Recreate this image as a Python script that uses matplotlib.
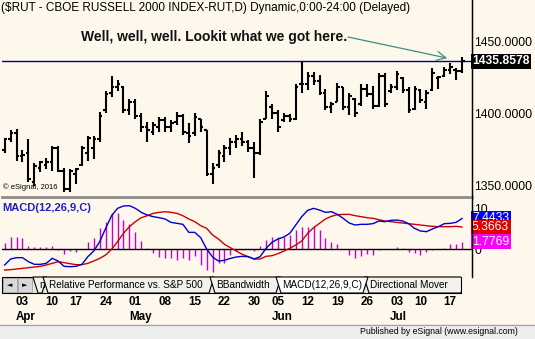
import numpy as np
import pandas as pd
import matplotlib
matplotlib.use('Agg')
import matplotlib.pyplot as plt
import matplotlib.patches as patches
from matplotlib import transforms

plt.rcParams['font.family'] = ['Liberation Sans', 'DejaVu Sans']

# trading days on the chart (2017, exchange holidays removed)
holidays = ['2017-04-14', '2017-05-29', '2017-07-04']
dates = pd.bdate_range('2017-03-29', '2017-07-19')
dates = dates[~dates.isin(pd.to_datetime(holidays))]

# daily OHLC of $RUT
opens = [1374, 1382, 1386, 1370, 1372, 1352, 1362, 1364, 1366, 1376,
         1360, 1347, 1358, 1364, 1372, 1376, 1382, 1402, 1414, 1418,
         1418, 1402, 1408, 1398, 1390, 1387, 1390, 1395, 1390, 1394,
         1398, 1386, 1386, 1396, 1388, 1358, 1364, 1370, 1376, 1380,
         1382, 1380, 1376, 1372, 1396, 1404, 1400, 1395, 1398, 1396,
         1420, 1420, 1426, 1422, 1414, 1404, 1408, 1418, 1404, 1410,
         1406, 1417, 1413, 1405, 1426, 1415, 1418, 1424, 1416, 1403,
         1416, 1408, 1416, 1424, 1426, 1430, 1430, 1429]
highs = [1383, 1388, 1389, 1374, 1382, 1365, 1367, 1369, 1377, 1377,
         1362, 1361, 1362, 1377, 1384, 1384, 1401, 1415, 1426, 1423,
         1419, 1409.5, 1409.5, 1400, 1394, 1394, 1397, 1397, 1395, 1401,
         1399, 1393, 1400, 1396, 1388, 1365, 1374, 1378, 1383, 1385,
         1387, 1381, 1380, 1396, 1415, 1406, 1402, 1400, 1399, 1420,
         1435.2, 1428.7, 1428.7, 1426.4, 1417, 1408, 1420.6, 1418.3, 1413.7, 1410.2,
         1420, 1420, 1419, 1428, 1428, 1420, 1429, 1425, 1418, 1419,
         1417, 1416, 1431, 1426, 1432, 1435, 1431, 1439]
lows = [1372, 1380, 1367, 1366, 1352, 1349, 1359, 1361, 1360, 1359,
        1345, 1345, 1351, 1363, 1367, 1368, 1380, 1400, 1411, 1415,
        1400, 1398.6, 1396, 1387, 1380, 1385, 1387, 1387, 1387, 1392,
        1385, 1379, 1384, 1387, 1356, 1351, 1362, 1366, 1371, 1376,
        1377, 1373, 1355, 1371, 1396, 1396, 1387, 1394, 1394, 1395,
        1414, 1416, 1419.5, 1412.5, 1402, 1400, 1408, 1402, 1398.6, 1397.5,
        1405, 1411, 1403, 1404, 1404, 1414, 1416, 1414, 1400, 1402,
        1407, 1403, 1415, 1417, 1425, 1427, 1423, 1428]
closes = [1382, 1386, 1370, 1371, 1354, 1363, 1366, 1366, 1376, 1360,
          1347, 1360, 1361, 1376, 1383, 1382, 1398, 1413, 1418, 1420,
          1402, 1408, 1398, 1390, 1388, 1392, 1395, 1390, 1393, 1398,
          1387, 1384, 1397, 1390, 1358, 1362, 1372, 1376, 1380, 1382,
          1380, 1376, 1372, 1394, 1412, 1400, 1390, 1398, 1396, 1418,
          1420, 1426, 1422, 1414, 1404, 1406, 1418, 1404, 1412, 1400,
          1417, 1413, 1405, 1426, 1406, 1418, 1427, 1416, 1402, 1417,
          1409, 1414, 1428, 1425, 1430, 1432, 1429, 1435.8578]

# MACD(12,26,9) panel
macd = [-3.90, -2.44, -2.11, -2.11, -3.09, -3.74, -3.74, -3.50, -2.28, -2.93,
        -4.23, -4.31, -4.23, -3.74, -1.87, -0.49, 1.79, 5.04, 8.13, 9.92,
        10.49, 10.57, 9.92, 8.94, 8.29, 7.89, 7.64, 7.32, 6.50, 6.26,
        6.02, 4.06, 4.06, 2.76, 0.00, -1.95, -2.93, -2.76, -2.28, -1.95,
        -1.79, -1.87, -2.44, -1.87, 0.16, 1.63, 2.44, 2.93, 3.82, 5.85,
        7.89, 9.43, 9.92, 9.51, 8.94, 9.10, 8.45, 7.48, 6.34, 5.85,
        6.02, 6.02, 6.18, 6.83, 6.67, 6.99, 7.07, 6.83, 6.18, 5.04,
        4.39, 4.23, 4.88, 5.45, 6.18, 6.26, 6.50, 7.4433]
signal = [-5.12, -5.04, -4.88, -4.72, -4.55, -4.39, -4.23, -3.90, -3.50, -3.09,
          -3.33, -3.58, -3.82, -3.82, -3.50, -2.93, -2.28, -1.46, -0.08, 1.79,
          3.82, 5.45, 6.67, 7.64, 8.13, 8.70, 8.94, 9.10, 8.94, 8.70,
          8.13, 7.32, 6.67, 5.69, 5.04, 3.41, 2.44, 1.14, 0.32, -0.49,
          -1.30, -1.87, -2.44, -2.44, -1.79, -1.63, -1.14, -0.49, 0.16, 0.97,
          1.95, 3.82, 5.20, 6.26, 7.32, 7.97, 8.37, 8.45, 8.45, 8.13,
          7.89, 7.64, 7.48, 7.15, 6.83, 6.67, 6.50, 6.34, 6.18, 6.02,
          5.85, 5.69, 5.53, 5.45, 5.45, 5.45, 5.53, 5.3663]
hist = [1.38, 3.01, 3.01, 2.60, 0.81, 0.57, 0.41, 0.41, 0.81, -0.24,
        -1.30, -0.49, -0.65, -0.10, 1.79, 2.60, 5.04, 6.67, 8.70, 8.70,
        7.07, 6.02, 4.23, 1.95, 0.16, -1.06, -1.87, -2.28, -2.28, -2.68,
        -2.28, -2.68, -1.63, -3.90, -5.12, -5.53, -3.50, -3.50, -1.46, -0.49,
        -0.24, -0.10, -0.49, 0.81, 2.19, 3.01, 3.01, 3.01, 3.41, 4.63,
        5.45, 5.45, 5.69, 4.63, 2.60, 1.63, 1.14, -0.10, -1.46, -2.28,
        -1.63, -1.30, -1.46, -0.24, -0.10, 0.10, 0.57, 0.32, -0.65, -1.06,
        -1.46, -0.81, -0.24, 0.05, 0.32, 1.14, 1.14, 1.7769]

# week labels on the date axis
tick_dates = ['2017-04-03', '2017-04-10', '2017-04-17', '2017-04-24',
              '2017-05-01', '2017-05-08', '2017-05-15', '2017-05-22', '2017-05-30',
              '2017-06-05', '2017-06-12', '2017-06-19', '2017-06-26',
              '2017-07-03', '2017-07-10', '2017-07-17']
tabs = ['n', 'Relative Performance vs. S&P 500', 'BBandwidth',
        'MACD(12,26,9,C)', 'Directional Mover']

title = '($RUT - CBOE RUSSELL 2000 INDEX-RUT,D) Dynamic,0:00-24:00 (Delayed)'
note = 'Well, well, well. Lookit what we got here.'

BG = '#FDF8EB'
W, H = 535, 339


def rect(x0, y0, x1, y1):
    return [x0 / W, 1 - y1 / H, (x1 - x0) / W, (y1 - y0) / H]


fig = plt.figure(figsize=(W / 100, H / 100), dpi=100, facecolor=BG)
ax = fig.add_axes(rect(2, 0, 472, 197), facecolor=BG)
axm = fig.add_axes(rect(2, 199, 472, 277), facecolor=BG)
deco = fig.add_axes([0, 0, 1, 1], facecolor='none', zorder=5)
deco.set_xlim(0, W)
deco.set_ylim(H, 0)
deco.axis('off')

x = np.arange(len(dates))

# ---- price panel
ax.vlines(x, lows, highs, color='black', lw=1.5, capstyle='butt')
ax.hlines(opens, x - 0.45, x, color='black', lw=1.5)
ax.hlines(closes, x, x + 0.45, color='black', lw=1.5)
ax.axhline(closes[-1], color='#000080', lw=1, zorder=0)

ax.set_xlim(-0.45, 78.67)
ax.set_ylim(1341.7, 1478.5)
ax.set_xticks([])
ax.yaxis.tick_right()
ax.set_yticks([1350, 1400, 1450])
ax.set_yticklabels([f'{v:.4f}' for v in [1350, 1400, 1450]])
ax.tick_params(axis='y', length=0, pad=1.5, labelsize=8.7)
for s in ['top', 'left']:
    ax.spines[s].set_visible(False)
ax.spines['right'].set_color('black')
ax.spines['bottom'].set_color('#8C8C8C')
ax.spines['bottom'].set_linewidth(2)

ax.text(1.0, closes[-1], f'{closes[-1]:.4f}', transform=transforms.blended_transform_factory(ax.transAxes, ax.transData),
        ha='left', va='center', color='white', fontsize=8.7, fontweight='bold',
        bbox=dict(boxstyle='square,pad=0.12', facecolor='black', edgecolor='none'))

# note with a thin arrow pointing at the latest bars
note_xy = (57.6, 1452.8)
ax.text(note_xy[0], note_xy[1], note, ha='right', va='center', fontsize=10,
        fontweight='bold', color='#111111')
ax.annotate('', xy=(len(x) - 3.5, closes[-1] + 2.3), xytext=(note_xy[0] + 0.2, note_xy[1]),
            arrowprops=dict(arrowstyle='->', color='#3E8E84', lw=0.9,
                            mutation_scale=16, shrinkA=0, shrinkB=0))
ax.text(0.003, 0.03, '\u00a9 eSignal, 2016', transform=ax.transAxes, fontsize=5.5,
        ha='left', va='bottom')

# ---- MACD panel
axm.vlines(x, 0, hist, color='#CC00CC', lw=1)
axm.axhline(0, color='black', lw=1)
axm.plot(x, signal, color='#CC0000', lw=1)
axm.plot(x, macd, color='#0000CC', lw=1)
axm.set_xlim(-0.45, 78.67)
axm.set_ylim(-6.83, 12.2)
axm.set_xticks([])
axm.yaxis.tick_right()
axm.set_yticks([0, 10])
axm.set_yticklabels(['0', '10'])
axm.tick_params(axis='y', length=0, pad=1.5, labelsize=8.7)
for s in ['top', 'left', 'bottom']:
    axm.spines[s].set_visible(False)
axm.text(0.0, 0.88, 'MACD(12,26,9,C)', transform=axm.transAxes, ha='left', va='center',
         color='#1E1EC8', fontsize=8, fontweight='bold')

bt = transforms.blended_transform_factory(axm.transAxes, axm.transData)
for val, col in [(macd[-1], '#0000FF'), (signal[-1], '#E00000'), (hist[-1], '#FF00FF')]:
    axm.text(1.0, val, f'{val:.4f}', transform=bt, ha='left', va='center', color='white',
             fontsize=8.7, clip_on=False,
             bbox=dict(boxstyle='square,pad=0.12', facecolor=col, edgecolor='none'))

# ---- tab strip
deco.add_patch(patches.Rectangle((2, 277), 459, 16, facecolor='#ECE9E2', edgecolor='black', lw=0.8))
for bx, sym in [(3, '\u25c4'), (18, '\u25ba')]:
    deco.add_patch(patches.Rectangle((bx, 278), 14, 14, facecolor='#D8D8D8', edgecolor='#A0A0A0', lw=0.6))
    deco.text(bx + 7, 285.5, sym, ha='center', va='center', fontsize=5, family='DejaVu Sans')
tab_x = [(33, 47), (43, 214), (210, 281), (276, 368), (364, 466)]
order = [0, 1, 2, 4, 3]
for i in order:
    x0, x1 = tab_x[i]
    face = '#FFFFFF' if i == 3 else '#F3F1EC'
    poly = patches.Polygon([(x0, 277), (x1, 277), (x1 - 5, 293), (x0 + 5, 293)],
                           closed=True, facecolor=face, edgecolor='black', lw=0.8)
    deco.add_patch(poly)
for i in [0, 1, 2, 3, 4]:
    x0, x1 = tab_x[i]
    deco.text(x0 + 6, 285.5, tabs[i], ha='left', va='center', fontsize=7.2,
              clip_on=True)
deco.add_patch(patches.Rectangle((461, 276), 74, 18, facecolor=BG, edgecolor='none'))
deco.plot([461, 461], [277, 293], color='black', lw=0.8)

# ---- date axis
dt = transforms.blended_transform_factory(axm.transData, deco.transData)
seen = set()
for d in tick_dates:
    ts = pd.Timestamp(d)
    i = dates.get_loc(ts)
    deco.text(i, 302, ts.strftime('%d'), transform=dt, ha='center', va='center',
              fontsize=8.4, fontweight='bold')
    if ts.month not in seen:
        seen.add(ts.month)
        mt = transforms.offset_copy(dt, fig=fig, x=-6.5, y=0, units='dots')
        deco.text(i, 317, ts.strftime('%b'), transform=mt, ha='left', va='center',
                  fontsize=8.4, fontweight='bold')

# ---- footer and title
deco.add_patch(patches.Rectangle((0, 324), W, 15, facecolor='#EDEDED', edgecolor='none'))
deco.plot([0, W], [324.5, 324.5], color='#A0A0A0', lw=0.8)
deco.text(518, 332, 'Published by eSignal (www.esignal.com)', ha='right', va='center', fontsize=6.3)
deco.text(1, 7.5, title, ha='left', va='center', fontsize=8.5)
deco.plot([472, 472], [0, 277], color='black', lw=1)

fig.savefig('out.png', dpi=100, facecolor=BG)
